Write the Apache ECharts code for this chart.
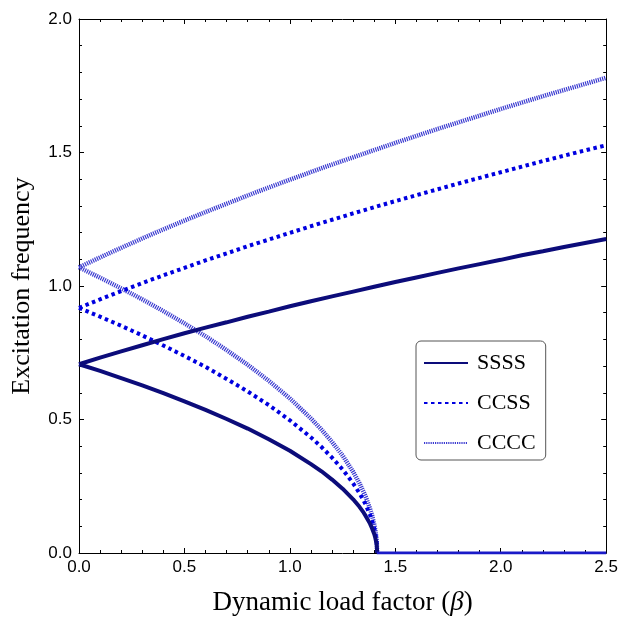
<!DOCTYPE html>
<html>
<head>
<meta charset="utf-8">
<script src="https://cdn.jsdelivr.net/npm/echarts@6/dist/echarts.min.js"></script>
<style>html,body{margin:0;padding:0;background:#fff;}#c{width:621px;height:621px;}</style>
</head>
<body>
<div id="c"></div>
<script>
// beta values (x)
const betaUpper = [0,0.1,0.2,0.3,0.4,0.5,0.6,0.7,0.8,0.9,1.0,1.1,1.2,1.3,1.4,1.5,1.6,1.7,1.8,1.9,2.0,2.1,2.2,2.3,2.4,2.5];
const betaLower = [0,0.1,0.2,0.3,0.4,0.5,0.6,0.7,0.8,0.9,1.0,1.1,1.15,1.2,1.25,1.3,1.33,1.35,1.36,1.38,1.39,1.40,1.405,1.41,1.412,1.414];
const betaZero = [1.412, 2.5];
const zeroVals = [0, 0];

const ssssUpper = [0.707,0.732,0.755,0.778,0.801,0.823,0.844,0.864,0.885,0.904,0.924,0.943,0.961,0.979,0.997,1.015,1.032,1.049,1.066,1.082,1.098,1.115,1.130,1.146,1.161,1.176];
const ssssLower = [0.707,0.682,0.655,0.628,0.599,0.568,0.536,0.502,0.466,0.426,0.383,0.333,0.306,0.275,0.241,0.201,0.173,0.151,0.138,0.110,0.092,0.071,0.057,0.039,0.028,0];

const ccssUpper = [0.918,0.950,0.981,1.011,1.040,1.068,1.096,1.122,1.149,1.174,1.199,1.224,1.248,1.272,1.295,1.318,1.340,1.362,1.384,1.405,1.426,1.447,1.468,1.488,1.508,1.527];
const ccssLower = [0.918,0.885,0.851,0.815,0.777,0.738,0.697,0.652,0.605,0.554,0.497,0.433,0.397,0.357,0.313,0.261,0.224,0.196,0.180,0.143,0.120,0.092,0.074,0.050,0.036,0];

const ccccUpper = [1.070,1.107,1.143,1.178,1.212,1.245,1.277,1.308,1.339,1.369,1.398,1.427,1.455,1.482,1.509,1.536,1.562,1.588,1.613,1.638,1.663,1.687,1.711,1.734,1.757,1.780];
const ccccLower = [1.070,1.031,0.991,0.950,0.906,0.860,0.812,0.760,0.705,0.645,0.579,0.504,0.462,0.416,0.365,0.304,0.261,0.228,0.210,0.166,0.140,0.107,0.086,0.059,0.042,0];

const seriesNames = ['SSSS','CCSS','CCCC'];

function pairs(xs, ys){ return xs.map((x,i)=>[x, ys[i]]); }

const styles = {
  SSSS: {color:'#0c0c7a', width:4, type:'solid'},
  CCSS: {color:'#0000e0', width:4, type:[3.5,3.5]},
  CCCC: {color:'#3a3ad0', width:4.5, type:[1.2,1.0]}
};

function mk(name, data, legend){
  const s = styles[name];
  return {
    name: legend ? name : name + '_b',
    type:'line', data:data, showSymbol:false, symbol:'none', animation:false,
    lineStyle:{color:s.color, width:s.width, type:s.type, cap:'butt'},
    itemStyle:{color:s.color},
    z: 3
  };
}

const chart = echarts.init(document.getElementById('c'));
const axisCommon = {
  axisLine:{show:true, onZero:false, lineStyle:{color:'#000', width:1}},
  splitLine:{show:false},
  axisTick:{show:true, inside:true, length:5, lineStyle:{color:'#000'}},
  minorTick:{show:true, splitNumber:5, length:3, lineStyle:{color:'#000'}}
};
chart.setOption({
  animation:false,
  grid:{left:79, right:14, top:19, bottom:66},
  legend:{
    data: seriesNames,
    orient:'vertical', left:416, top:341,
    padding:[11,10,6,7],
    itemWidth:44, itemHeight:14, itemGap:18,
    itemStyle:{opacity:0},
    backgroundColor:'#fff', borderColor:'#555', borderWidth:1, borderRadius:5,
    textStyle:{fontFamily:'Liberation Serif', fontSize:22, color:'#000', lineHeight:22, padding:[0,0,0,4]}
  },
  xAxis:[
    Object.assign({type:'value', min:0, max:2.5, interval:0.5, position:'bottom',
      name:'Dynamic load factor ({i|β})', nameLocation:'middle', nameGap:36,
      nameTextStyle:{fontFamily:'Liberation Serif', fontSize:27, color:'#000',
        rich:{i:{fontFamily:'Liberation Serif', fontStyle:'italic', fontSize:27, color:'#000'}}},
      axisLabel:{fontFamily:'Liberation Sans', fontSize:17, color:'#000', margin:6,
        formatter:v=>v.toFixed(1)}}, axisCommon),
    Object.assign({type:'value', min:0, max:2.5, interval:0.5, position:'top',
      axisLabel:{show:false}}, axisCommon)
  ],
  yAxis:[
    Object.assign({type:'value', min:0, max:2, interval:0.5, position:'left',
      name:'Excitation frequency', nameLocation:'middle', nameGap:44,
      nameTextStyle:{fontFamily:'Liberation Serif', fontSize:26, color:'#000'},
      axisLabel:{fontFamily:'Liberation Sans', fontSize:17, color:'#000', margin:7,
        formatter:v=>v.toFixed(1)}}, axisCommon),
    Object.assign({type:'value', min:0, max:2, interval:0.5, position:'right',
      axisLabel:{show:false}}, axisCommon)
  ],
  series:[
    mk('CCCC', pairs(betaUpper, ccccUpper), true),
    mk('CCCC', pairs(betaLower, ccccLower), false),
    mk('CCSS', pairs(betaUpper, ccssUpper), true),
    mk('CCSS', pairs(betaLower, ccssLower), false),
    mk('SSSS', pairs(betaUpper, ssssUpper), true),
    mk('SSSS', pairs(betaLower, ssssLower), false),
    {name:'zero', type:'line', data:pairs(betaZero, zeroVals), showSymbol:false, symbol:'none',
     lineStyle:{color:'#1a1ac8', width:3}, z:4}
  ]
});
</script>
</body>
</html>
